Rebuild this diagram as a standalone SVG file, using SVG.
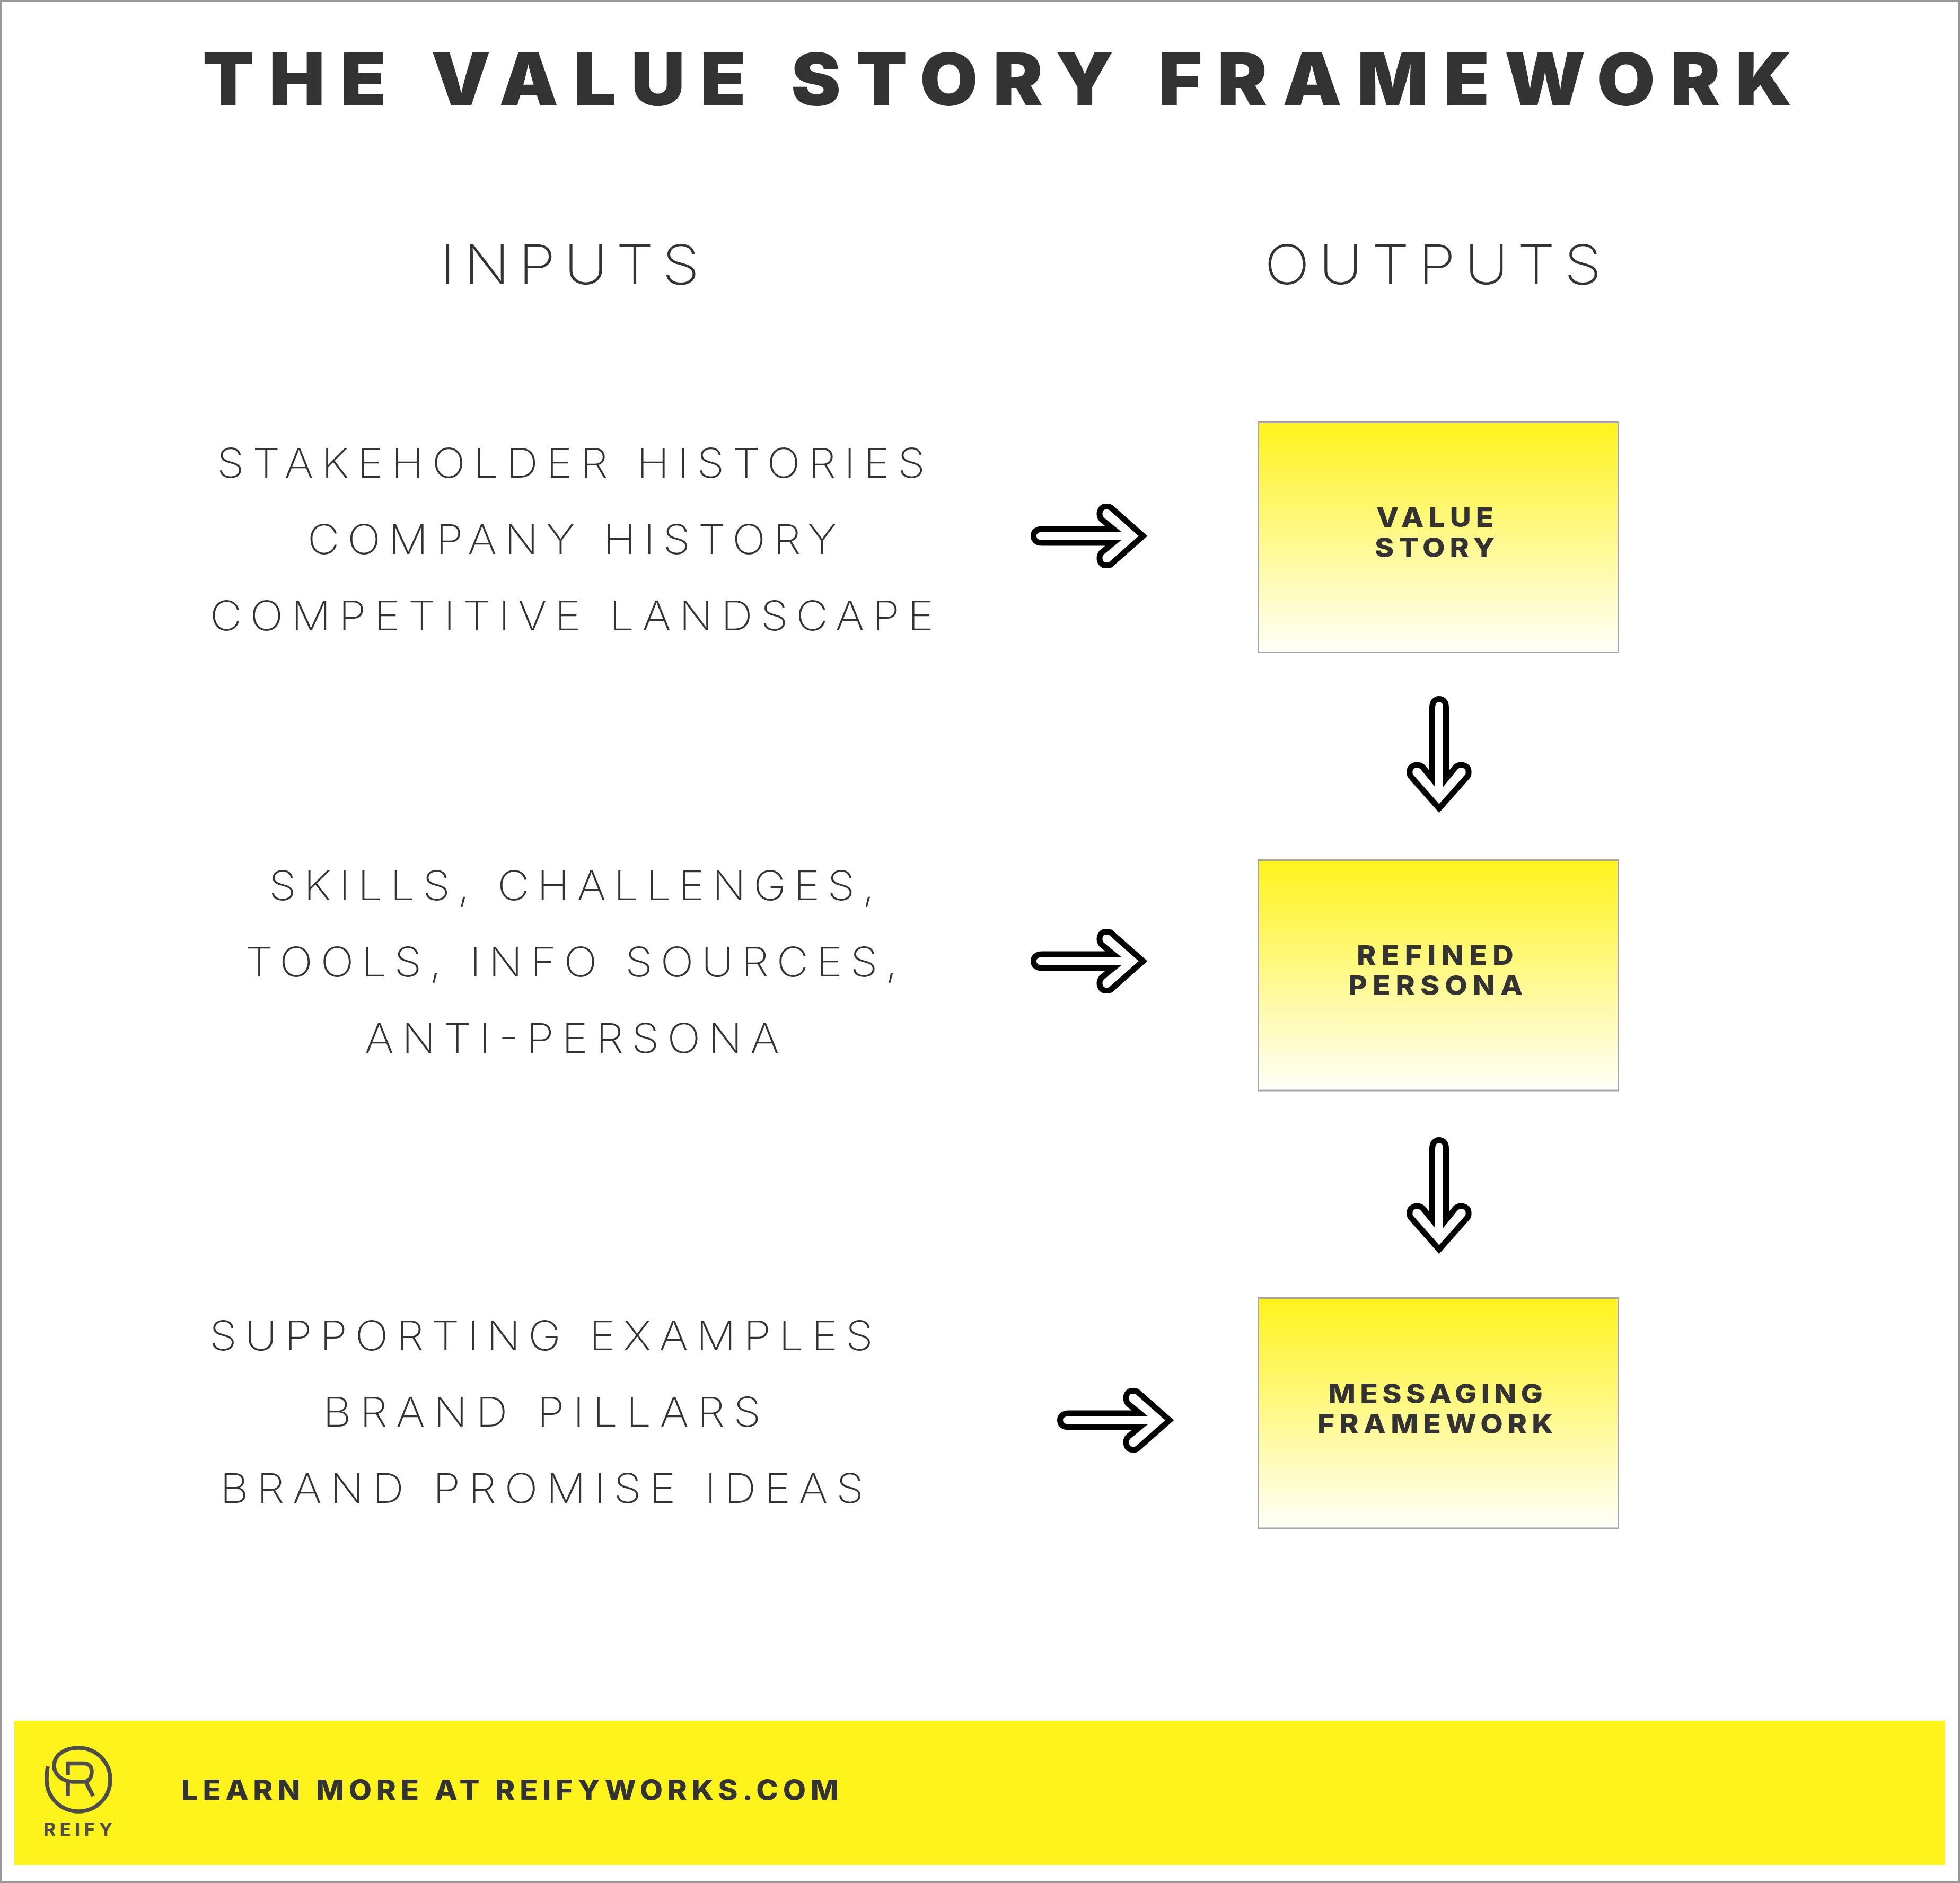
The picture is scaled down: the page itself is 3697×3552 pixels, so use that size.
<svg xmlns="http://www.w3.org/2000/svg" xmlns:xlink="http://www.w3.org/1999/xlink" width="3697" height="3552" viewBox="0 0 3697 3552">
<style>
text{font-family:"Inter","Liberation Sans",sans-serif;fill:#333333}
.title{font-size:137px;font-weight:900}
.head{font-size:103px;font-weight:200}
.input{font-size:77px;font-weight:200}
.label{font-size:51px;font-weight:800}
.cta{font-size:52px;font-weight:800}
.box{fill:url(#boxGrad);stroke:#a6a6a6;stroke-width:3}
.arrow{fill:#ffffff;stroke:#000000;stroke-width:11;stroke-linejoin:miter;stroke-miterlimit:6}
.logo{fill:none;stroke:#4d4d4d;stroke-width:7.5}
</style>
<defs>
<linearGradient id="boxGrad" x1="0" y1="0" x2="0" y2="1">
<stop offset="0" stop-color="#fff31c"/>
<stop offset="1" stop-color="#fffffa"/>
</linearGradient>
<path id="arrowShape" class="arrow" d="M22,-13 H156 L134,-31 C127,-38 129,-55.5 142,-55.5 C146,-55.5 149,-56 151.5,-53.5 L212,0 L151.5,53.5 C149,56 146,55.5 142,55.5 C129,55.5 127,38 134,31 L156,13 H22 C10,13 5.5,7 5.5,0 C5.5,-7 10,-13 22,-13 Z"/>
</defs>
<rect x="2" y="2" width="3693" height="3548" fill="#ffffff" stroke="#999999" stroke-width="4"/>
<g id="title"><text class="title" transform="translate(382,199) scale(1.03,1)" textLength="2911">THE VALUE STORY FRAMEWORK</text></g>
<g id="heading-inputs"><text class="head" transform="translate(830,536) scale(1.1,1)" textLength="445">INPUTS</text></g>
<g id="heading-outputs"><text class="head" transform="translate(2385,536) scale(1.1,1)" textLength="578">OUTPUTS</text></g>
<g id="inputs-value-story">
<text class="input" transform="translate(409,901) scale(1.08,1)" textLength="1237">STAKEHOLDER HISTORIES</text>
<text class="input" transform="translate(580,1045) scale(1.08,1)" textLength="924">COMPANY HISTORY</text>
<text class="input" transform="translate(396,1189) scale(1.08,1)" textLength="1264">COMPETITIVE LANDSCAPE</text>
</g>
<g id="inputs-refined-persona">
<text class="input" transform="translate(507,1698) scale(1.08,1)" textLength="1058">SKILLS, CHALLENGES,</text>
<text class="input" transform="translate(463,1842) scale(1.08,1)" textLength="1139">TOOLS, INFO SOURCES,</text>
<text class="input" transform="translate(688,1986) scale(1.08,1)" textLength="724">ANTI-PERSONA</text>
</g>
<g id="inputs-messaging-framework">
<text class="input" transform="translate(395,2547) scale(1.08,1)" textLength="1159">SUPPORTING EXAMPLES</text>
<text class="input" transform="translate(609,2691) scale(1.08,1)" textLength="765">BRAND PILLARS</text>
<text class="input" transform="translate(415,2835) scale(1.08,1)" textLength="1124">BRAND PROMISE IDEAS</text>
</g>
<g id="node-value-story">
<rect class="box" x="2373.5" y="796.5" width="679" height="434"/>
<text class="label" transform="translate(2596,994) scale(1.08,1)" textLength="205">VALUE</text>
<text class="label" transform="translate(2593,1051) scale(1.08,1)" textLength="210">STORY</text>
</g>
<g id="node-refined-persona">
<rect class="box" x="2373.5" y="1622.5" width="679" height="434.5"/>
<text class="label" transform="translate(2559,1820) scale(1.08,1)" textLength="274">REFINED</text>
<text class="label" transform="translate(2543,1877) scale(1.08,1)" textLength="305">PERSONA</text>
</g>
<g id="node-messaging-framework">
<rect class="box" x="2373.5" y="2448.5" width="679" height="434.5"/>
<text class="label" transform="translate(2505,2647) scale(1.08,1)" textLength="375">MESSAGING</text>
<text class="label" transform="translate(2485,2704) scale(1.08,1)" textLength="412">FRAMEWORK</text>
</g>
<g id="connectors">
<use xlink:href="#arrowShape" href="#arrowShape" transform="translate(1944,1011)"/>
<use xlink:href="#arrowShape" href="#arrowShape" transform="translate(1944,1813)"/>
<use xlink:href="#arrowShape" href="#arrowShape" transform="translate(1994,2679)"/>
<use xlink:href="#arrowShape" href="#arrowShape" transform="translate(2714.5,1313) rotate(90)"/>
<use xlink:href="#arrowShape" href="#arrowShape" transform="translate(2714.5,2145) rotate(90)"/>
</g>
<g id="footer">
<rect x="27" y="3246" width="3642" height="272" fill="#fff31c"/>
<g id="logo">
<path class="logo" d="M90.5,3332 C88,3340 88,3350 88,3357 A60,60 0 0 0 208,3357 A60,60 0 0 0 148,3297 C120,3297 102,3312 102,3331 C102,3347 118,3361 138,3361 H158 C168,3361 173,3352 173,3342 C173,3333 168,3326.5 158,3326.5 H128 V3348"/>
<path d="M84.5,3345 L91,3330 L91,3345 Z" fill="#4d4d4d"/>
<path class="logo" d="M128,3361 V3388"/>
<path class="logo" d="M162.7,3363 L175.5,3388"/>
<text transform="translate(82,3463) scale(1.05,1)" textLength="124" style="font-size:33.5px;font-weight:700;fill:#4d4d4d">REIFY</text>
</g>
<text class="cta" transform="translate(342,3395) scale(1.08,1)" textLength="1148">LEARN MORE AT REIFYWORKS.COM</text>
</g>
</svg>
